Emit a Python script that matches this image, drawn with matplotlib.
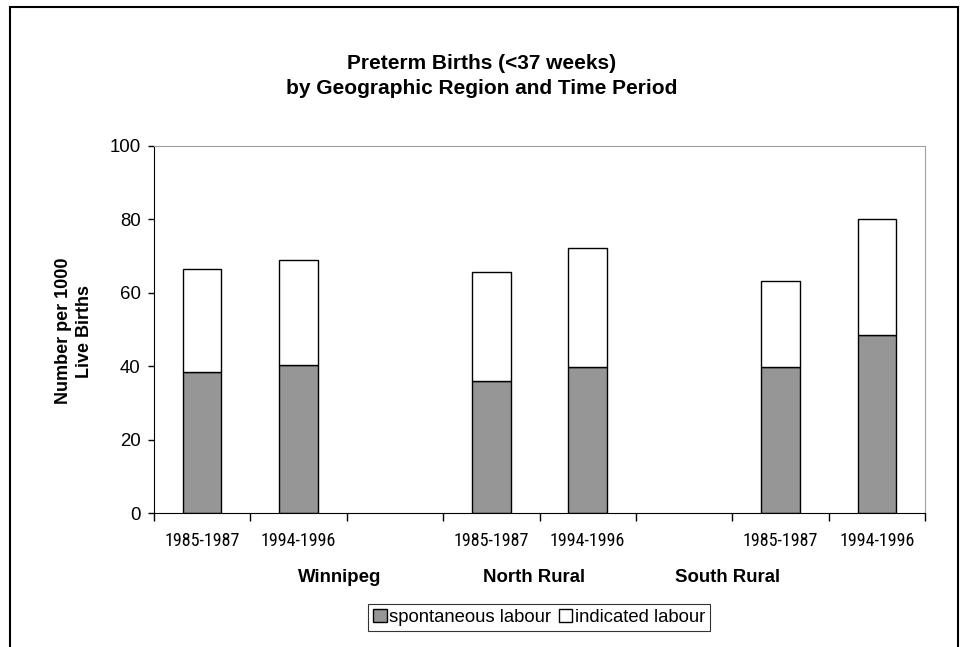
import matplotlib
matplotlib.use("Agg")
import matplotlib.pyplot as plt
from matplotlib import font_manager
from matplotlib.patches import Rectangle

# data (per 1000 live births)
periods = ["1985-1987", "1994-1996", "", "1985-1987", "1994-1996", "", "1985-1987", "1994-1996"]
regions = ["Winnipeg", "North Rural", "South Rural"]
spontaneous = [38.4, 40.4, None, 36.1, 39.7, None, 39.9, 48.6]
total = [66.4, 69.0, None, 65.6, 72.2, None, 63.3, 80.0]
indicated = [t - s if t is not None else None for t, s in zip(total, spontaneous)]

plt.rcParams["font.family"] = ["Liberation Sans", "DejaVu Sans"]

# the period labels use a narrow face; pick whatever condensed font exists
fonts = font_manager.fontManager.ttflist
names = {f.name for f in fonts}
narrow = None
for cand in ["Liberation Sans Narrow", "Arial Narrow", "Roboto Condensed", "Open Sans Condensed"]:
    if cand in names:
        narrow = dict(family=cand, stretch="normal", size=13)
        break
if narrow is None:
    for f in fonts:
        if f.stretch in ("condensed", "semi-condensed", 75, 87.5) or "Condensed" in f.fname:
            narrow = dict(family=f.name, stretch="condensed", size=12)
            break
if narrow is None:
    narrow = dict(family="Liberation Sans", stretch="normal", size=11)

fig = plt.figure(figsize=(9.63, 6.47), dpi=100)
fig.patches.append(Rectangle((9.5 / 963, -0.05), (958 - 9.5) / 963, 1.05 - 7.5 / 647,
                             transform=fig.transFigure, fill=False, edgecolor="black",
                             linewidth=1.5, zorder=10))

ax = fig.add_axes([154 / 963, 1 - 513 / 647, (925 - 154) / 963, (513 - 146) / 647])

xs = [i for i, v in enumerate(spontaneous) if v is not None]
sp = [spontaneous[i] for i in xs]
ind = [indicated[i] for i in xs]
ax.bar(xs, sp, width=0.4, color="#969696", edgecolor="black", linewidth=1, label="spontaneous labour")
ax.bar(xs, ind, width=0.4, bottom=sp, color="white", edgecolor="black", linewidth=1, label="indicated labour")

ax.set_xlim(-0.5, len(periods) - 0.5)
ax.set_ylim(0, 100)
ax.set_yticks(range(0, 101, 20))
ax.tick_params(axis="y", direction="out", length=4, width=1, labelsize=13.4, pad=5.5)

ax.set_xticks([i + 0.5 for i in range(-1, len(periods))])
ax.set_xticklabels([])
ax.tick_params(axis="x", direction="out", length=6, width=1)
for i, p in enumerate(periods):
    if p:
        ax.text(i, -7.7, p, ha="center", va="center", fontsize=narrow["size"],
                family=[narrow["family"], "DejaVu Sans"], fontstretch=narrow["stretch"])

for sname in ["top", "right"]:
    ax.spines[sname].set_color("#a0a0a0")
for sname in ["left", "bottom"]:
    ax.spines[sname].set_color("black")

fig.text(74 / 963, 1 - 331 / 647, "Number per 1000\nLive Births", rotation=90,
         ha="center", va="center", fontsize=13, fontweight="bold", linespacing=1.25)

fig.text(0.5, 1 - 76 / 647, "Preterm Births (<37 weeks)\nby Geographic Region and Time Period",
         ha="center", va="center", fontsize=15, fontweight="bold", linespacing=1.4)

for r, xp in zip(regions, [340, 534, 728]):
    fig.text(xp / 963, 1 - 577 / 647, r, ha="center", va="center", fontsize=13.4, fontweight="bold")

leg = fig.legend(loc="center", bbox_to_anchor=(539 / 963, 1 - 617.5 / 647), ncol=2,
                 frameon=True, fancybox=False, edgecolor="black", handlelength=0.72,
                 handleheight=0.72, handletextpad=0.12, columnspacing=0.45, borderpad=0.28,
                 borderaxespad=0, prop={"size": 13.3})
leg.get_frame().set_linewidth(0.8)

fig.savefig("out.png", dpi=100)
